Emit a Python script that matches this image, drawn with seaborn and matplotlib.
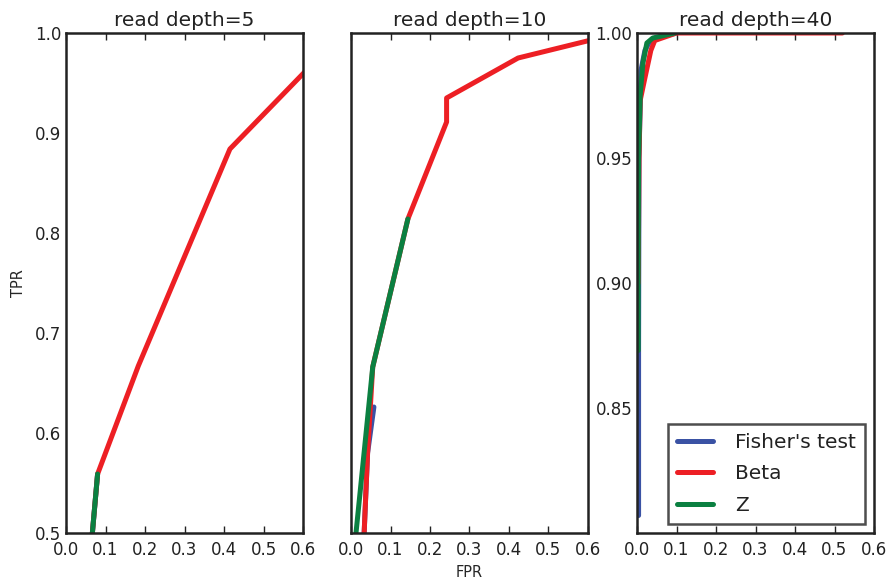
import seaborn as sns
import matplotlib.pyplot as plt
import pandas as pd

# ROC points, one list per depth and method
depths = [5, 10, 40]
methods = ["Fisher's test", "Beta", "Z"]
cores = ["#3a52a4", "#ed1f24", "#0b8041"]

fisher_5_fpr = [0.060, 0.080]
fisher_5_tpr = [0.470, 0.559]
beta_5_fpr = [0.060, 0.080, 0.183, 0.415, 0.700]
beta_5_tpr = [0.470, 0.559, 0.667, 0.884, 1.000]
z_5_fpr = [0.060, 0.080]
z_5_tpr = [0.470, 0.559]

fisher_10_fpr = [0.030, 0.042, 0.058]
fisher_10_tpr = [0.470, 0.580, 0.626]
beta_10_fpr = [0.030, 0.042, 0.055, 0.144, 0.242, 0.242, 0.423, 0.680]
beta_10_tpr = [0.470, 0.580, 0.666, 0.814, 0.911, 0.935, 0.975, 1.000]
z_10_fpr = [0.005, 0.055, 0.144]
z_10_tpr = [0.470, 0.666, 0.814]

fisher_40_fpr = [0.004, 0.004, 0.005, 0.010, 0.020, 0.030, 0.050, 0.100]
fisher_40_tpr = [0.807, 0.873, 0.950, 0.985, 0.993, 0.996, 0.998, 1.000]
beta_40_fpr = [0.003, 0.005, 0.008, 0.020, 0.035, 0.045, 0.100, 0.520]
beta_40_tpr = [0.900, 0.950, 0.973, 0.982, 0.993, 0.997, 1.000, 1.000]
z_40_fpr = [0.003, 0.003, 0.004, 0.008, 0.015, 0.025, 0.040, 0.096]
z_40_tpr = [0.873, 0.900, 0.950, 0.975, 0.988, 0.996, 0.998, 1.000]

curvas = {
    (5, "Fisher's test"): (fisher_5_fpr, fisher_5_tpr),
    (5, "Beta"): (beta_5_fpr, beta_5_tpr),
    (5, "Z"): (z_5_fpr, z_5_tpr),
    (10, "Fisher's test"): (fisher_10_fpr, fisher_10_tpr),
    (10, "Beta"): (beta_10_fpr, beta_10_tpr),
    (10, "Z"): (z_10_fpr, z_10_tpr),
    (40, "Fisher's test"): (fisher_40_fpr, fisher_40_tpr),
    (40, "Beta"): (beta_40_fpr, beta_40_tpr),
    (40, "Z"): (z_40_fpr, z_40_tpr),
}

linhas = []
for (d, m), (xs, ys) in curvas.items():
    for i, (x, y) in enumerate(zip(xs, ys)):
        linhas.append({"depth": d, "method": m, "ordem": i, "FPR": x, "TPR": y})
df = pd.DataFrame(linhas)

sns.set_style("white")
plt.rcParams["font.family"] = ["DejaVu Sans"]
plt.rcParams["axes.edgecolor"] = "#222222"
plt.rcParams["text.color"] = "#222222"
plt.rcParams["xtick.color"] = "#222222"
plt.rcParams["ytick.color"] = "#222222"

fig = plt.figure(figsize=(8.89, 5.8), dpi=100)
W, H = 889, 580
lefts = [66, 351, 637]
axes = []
for l in lefts:
    ax = fig.add_axes([l / W, 47 / H, 237 / W, 500 / H])
    axes.append(ax)

ylims = [(0.5, 1.0), (0.5, 1.0), (0.8, 1.0)]
for ax, d, yl in zip(axes, depths, ylims):
    sub = df[df["depth"] == d]
    sns.lineplot(data=sub, x="FPR", y="TPR", hue="method", hue_order=methods,
                 palette=cores, units="method", estimator=None, sort=False,
                 linewidth=3.6, ax=ax, legend=(d == 40))
    ax.set_xlim(0, 0.6)
    ax.set_ylim(*yl)
    ax.set_title(f"read depth={d}", fontsize=14.5, pad=5)
    ax.set_xticks([0.0, 0.1, 0.2, 0.3, 0.4, 0.5, 0.6])
    ax.set_xlabel("")
    ax.set_ylabel("")
    ax.tick_params(axis="x", direction="in", length=5, width=1, top=True,
                   bottom=True, labelsize=12, pad=6)
    ax.tick_params(axis="y", direction="in", length=3, width=2, labelsize=12)
    for s in ax.spines.values():
        s.set_linewidth(1.8)

axes[0].set_yticks([0.5, 0.6, 0.7, 0.8, 0.9, 1.0])
axes[1].set_yticks([0.5, 0.6, 0.7, 0.8, 0.9, 1.0])
axes[1].set_yticklabels([])
axes[1].tick_params(axis="y", length=0)
axes[2].set_yticks([0.85, 0.90, 0.95, 1.00])
axes[2].set_yticklabels(["0.85", "0.90", "0.95", "1.00"])

axes[0].set_ylabel("TPR", fontsize=10.5, labelpad=6)
axes[1].set_xlabel("FPR", fontsize=10.5, labelpad=4)

leg = axes[2].legend(loc="lower right", fontsize=14.5, frameon=True, fancybox=False,
                     handlelength=1.8, handletextpad=1.1, borderpad=0.45,
                     labelspacing=0.62, borderaxespad=0.45)
leg.get_frame().set_edgecolor("#222222")
leg.get_frame().set_linewidth(1.8)
for h in leg.get_lines():
    h.set_linewidth(3.6)

plt.savefig("out.png", dpi=100)
